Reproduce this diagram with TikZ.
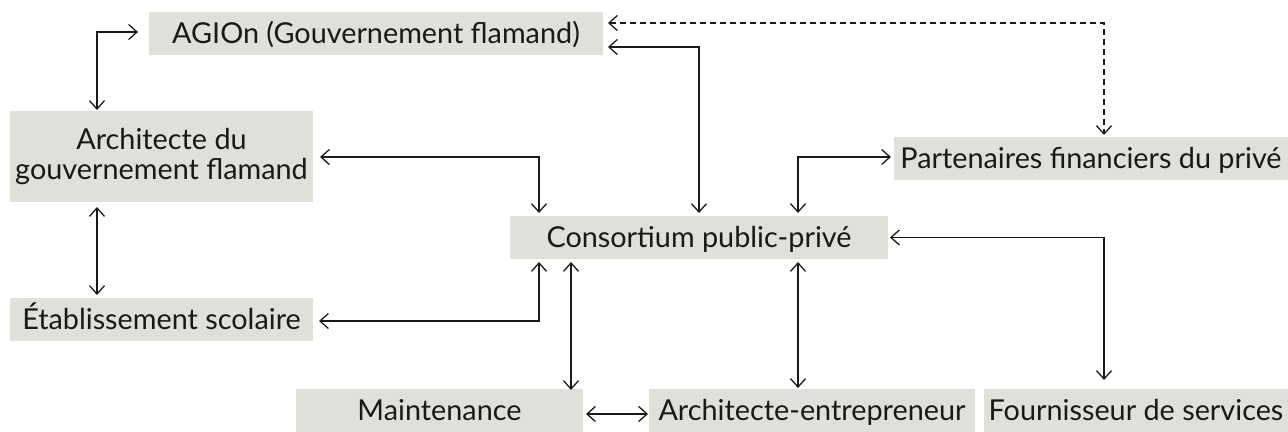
\documentclass[tikz,border=0pt]{standalone}
\usepackage{fontspec}
\setmainfont{Lato}
\usetikzlibrary{arrows.meta,calc}
\definecolor{boxgrey}{RGB}{224,224,219}
\definecolor{ink}{RGB}{25,25,25}
\tikzset{
  box/.style={fill=boxgrey, draw=none, inner sep=0pt, outer sep=0pt, text=ink,
    font=\fontsize{14.4}{14.6}\selectfont, text height=10pt, text depth=0pt, align=center},
  bi/.style={line width=0.65pt, draw=ink, {Straight Barb[length=4.2pt,width=7.5pt]}-{Straight Barb[length=4.2pt,width=7.5pt]}},
  dashline/.style={bi, dash pattern=on 3pt off 2pt}
}
\begin{document}
\begin{tikzpicture}[x=0.5pt,y=-0.5pt]
\useasboundingbox (0,0) rectangle (1288,432);
\node[box, minimum width=227pt, minimum height=21.5pt] (agion) at (376,33.5) {AGIOn (Gouvernement flamand)};
\node[box, minimum width=151.5pt, minimum height=45.5pt, text height=, text depth=] (arch) at (161.5,156.5) {Architecte du\\gouvernement flamand};
\node[box, minimum width=197pt, minimum height=21.5pt] (part) at (1091,158.5) {Partenaires financiers du privé};
\node[box, minimum width=189pt, minimum height=21.5pt] (cons) at (699,237.5) {Consortium public-privé};
\node[box, minimum width=151.5pt, minimum height=21.5pt] (etab) at (161.5,319.5) {Établissement scolaire};
\node[box, minimum width=143.5pt, minimum height=21.5pt] (maint) at (439.5,410.5) {Maintenance};
\node[box, minimum width=163pt, minimum height=21.5pt] (ae) at (812,410.5) {Architecte-entrepreneur};
\node[box, minimum width=152pt, minimum height=21.5pt] (four) at (1136,410.5) {Fournisseur de services};

\draw[bi] ($(arch.north)+(-64.5,-1)$) |- ($(agion.west)+(-11,-1.5)$);
\draw[bi] ($(agion.east)+(5,13.5)$) -| ($(cons.north)+(0,-3)$);
\draw[dashline] ($(agion.east)+(5,-10.5)$) -| ($(part.north)+(13,-2)$);
\draw[bi] ($(arch.east)+(7,0.5)$) -| ($(cons.north)+(-160,-3)$);
\draw[bi] ($(arch.south)+(-64.5,5)$) -- ($(etab.north)+(-64.5,-3)$);
\draw[bi] ($(etab.east)+(6,1.5)$) -| ($(cons.south)+(-160,3)$);
\draw[bi] ($(cons.north)+(99,-3)$) |- ($(part.west)+(-3,-1.5)$);
\draw[bi] ($(cons.east)+(2,0)$) -| ($(four.north)+(-32,-9)$);
\draw[bi] ($(cons.south)+(-128,3)$) -- ($(maint.north)+(131.5,1)$);
\draw[bi] ($(cons.south)+(99,3)$) -- ($(ae.north)+(-14,-1)$);
\draw[bi] ($(maint.east)+(3,3.5)$) -- ($(ae.west)+(-1,3.5)$);
\end{tikzpicture}
\end{document}
